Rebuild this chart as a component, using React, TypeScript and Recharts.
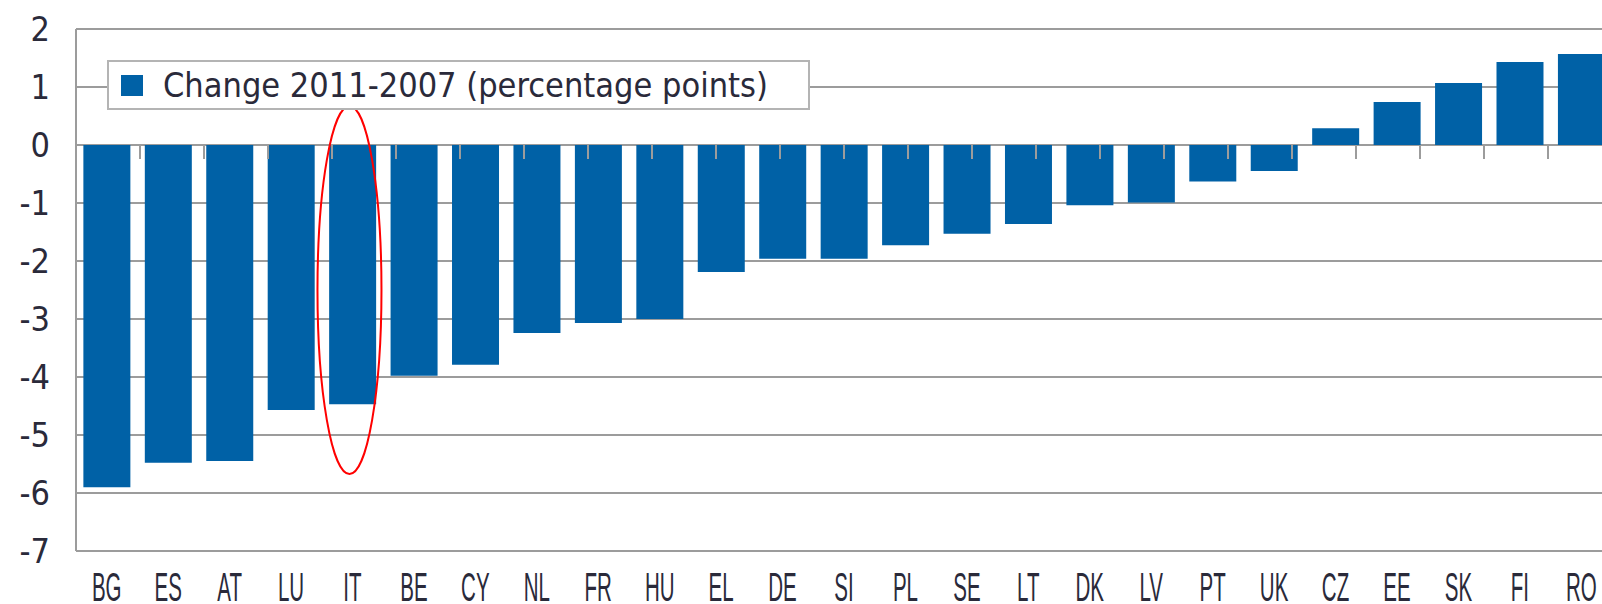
import React from "react";
import {
  BarChart,
  Bar,
  XAxis,
  YAxis,
  CartesianGrid,
  Legend,
  ReferenceLine,
  ReferenceDot,
} from "recharts";

const countries = [
  "BG", "ES", "AT", "LU", "IT", "BE", "CY", "NL", "FR", "HU", "EL", "DE", "SI",
  "PL", "SE", "LT", "DK", "LV", "PT", "UK", "CZ", "EE", "SK", "FI", "RO",
];
const changes = [
  -5.9, -5.48, -5.45, -4.57, -4.47, -3.98, -3.79, -3.24, -3.07, -3.0, -2.19,
  -1.96, -1.96, -1.73, -1.53, -1.36, -1.04, -0.99, -0.63, -0.45, 0.29, 0.74,
  1.07, 1.43, 1.57,
];
const yTicks = [-7, -6, -5, -4, -3, -2, -1, 0, 1, 2];
const seriesName = "Change 2011-2007 (percentage points)";

const BLUE = "#0061a6";
const GRID = "#9c9c9c";

const data = countries.map((c, i) => ({ country: c, change: changes[i] }));
// boundaries between categories, used for the small ticks on the zero line
const boundaries = countries.slice(1).map((_, i) => i + 1);

const CountryTick = ({ x, y, payload }: any) => (
  <g transform={`translate(${x},${y + 50})`}>
    <text
      transform="scale(0.5,1)"
      textAnchor="middle"
      fontFamily="Liberation Sans, Arial, sans-serif"
      fontSize={41}
      fill="#2a2a3a"
    >
      {payload.value}
    </text>
  </g>
);

const LegendBox = () => (
  <div
    style={{
      boxSizing: "border-box",
      width: 703,
      height: 50,
      border: `2px solid #b4b4b4`,
      background: "#fff",
      display: "flex",
      alignItems: "center",
      paddingLeft: 12,
      fontFamily: "DejaVu Sans Condensed, DejaVu Sans, sans-serif",
      fontSize: 34,
      color: "#2a2a3a",
      whiteSpace: "nowrap",
    }}
  >
    <span style={{ display: "inline-block", width: 22, height: 21, background: BLUE, marginRight: 20 }} />
    {seriesName}
  </div>
);

const Ellipse = (props: any) => (
  <ellipse
    cx={props.cx - 3}
    cy={props.cy}
    rx={32}
    ry={184}
    fill="none"
    stroke="#ff0000"
    strokeWidth={2}
  />
);

export default function App() {
  return (
    <div style={{ position: "absolute", left: 0, top: 0, width: 1602, height: 604, overflow: "hidden", background: "#fff" }}>
      <BarChart
        width={1640}
        height={604}
        data={data}
        margin={{ top: 29, right: 28, left: 0, bottom: 0 }}
        barCategoryGap="12%"
      >
        <CartesianGrid vertical={false} stroke={GRID} strokeWidth={2} />
        <XAxis
          dataKey="country"
          height={53}
          axisLine={false}
          tickLine={false}
          tickSize={0}
          tickMargin={0}
          interval={0}
          tick={<CountryTick />}
        />
        <XAxis xAxisId="b" type="number" domain={[0, 25]} hide />
        <YAxis
          domain={[-7, 2]}
          ticks={yTicks}
          width={76}
          axisLine={{ stroke: GRID, strokeWidth: 2 }}
          tickLine={false}
          tickSize={0}
          tickMargin={26}
          tick={{ fill: "#2a2a3a", fontSize: 34, fontFamily: "DejaVu Sans Condensed, DejaVu Sans, sans-serif" }}
        />
        <Legend
          layout="horizontal"
          align="center"
          verticalAlign="middle"
          wrapperStyle={{ position: "absolute", left: 107, top: 60, width: "auto", height: "auto" }}
          content={<LegendBox />}
        />
        <Bar dataKey="change" fill={BLUE} isAnimationActive={false} />
        {boundaries.map((b) => (
          <ReferenceLine
            key={b}
            xAxisId="b"
            segment={[{ x: b, y: 0 }, { x: b, y: -0.24 }]}
            stroke={GRID}
            strokeWidth={2}
          />
        ))}
        <ReferenceDot x="IT" y={-2.5} shape={<Ellipse />} />
      </BarChart>
    </div>
  );
}
